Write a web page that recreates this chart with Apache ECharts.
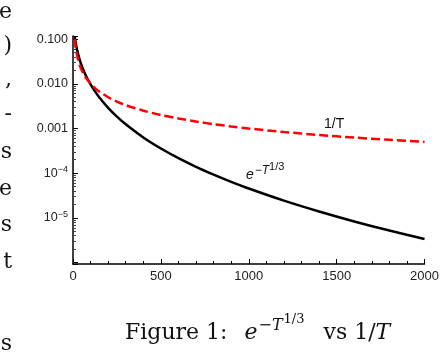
<!DOCTYPE html>
<html>
<head>
<meta charset="utf-8">
<script src="https://cdn.jsdelivr.net/npm/echarts@6/dist/echarts.min.js"></script>
<style>
  html, body { margin: 0; padding: 0; background: #fff; }
  #chart { width: 442px; height: 354px; }
</style>
</head>
<body>
<div id="chart"></div>
<script>
// T values sampled along the curves
const T = [10, 12, 15, 20, 25, 30, 40, 50, 60, 75, 100, 125, 150, 200, 250, 300, 400, 500, 600, 700, 800, 900, 1000, 1200, 1400, 1600, 1800, 2000];
// e^{-T^{1/3}}
const expVals = [0.116, 0.101, 0.0849, 0.0663, 0.0537, 0.0447, 0.0327, 0.0251, 0.0200, 0.0147, 0.00964, 0.00674, 0.00493, 0.00289, 0.00184, 0.00124, 0.000631, 0.000357, 0.000217, 0.000139, 0.0000930, 0.0000641, 0.0000454, 0.0000243, 0.0000139, 0.00000833, 0.00000521, 0.00000338];
// 1/T
const invVals = [0.100, 0.0833, 0.0667, 0.0500, 0.0400, 0.0333, 0.0250, 0.0200, 0.0167, 0.0133, 0.0100, 0.0080, 0.00667, 0.00500, 0.00400, 0.00333, 0.00250, 0.00200, 0.00167, 0.00143, 0.00125, 0.00111, 0.00100, 0.000833, 0.000714, 0.000625, 0.000556, 0.000500];
// y tick labels by exponent
const yTickExp = [-1, -2, -3, -4, -5];
const yTickText = ['0.100', '0.010', '0.001', '10{sup|\u22124}', '10{sup|\u22125}'];
// clipped letters of the neighbouring text column
const sideLetters = ['e', ')', ',', '-', 's', 'e', 's', 't', 's'];
const sideY = [12, 46, 80, 114, 152, 189, 225, 262, 344];

const chart = echarts.init(document.getElementById('chart'));

const sans = 'Liberation Sans, Arial, sans-serif';
const serif = 'DejaVu Serif, serif';

let graphics = [
  {
    type: 'text', x: 324, y: 117,
    style: { text: '1/T', font: '14px ' + sans, fill: '#111' }
  },
  {
    type: 'text', x: 246, y: 161,
    style: {
      text: '{e|e}{m|\u2212T}{s|1/3}',
      rich: {
        e: { fontFamily: sans, fontStyle: 'italic', fontSize: 14, verticalAlign: 'bottom', fill: '#111' },
        m: { fontFamily: sans, fontStyle: 'italic', fontSize: 12, verticalAlign: 'bottom', padding: [0, 0, 5, 1], fill: '#111' },
        s: { fontFamily: sans, fontSize: 11, verticalAlign: 'bottom', padding: [0, 0, 10, 0], fill: '#111' }
      }
    }
  },
  {
    type: 'text', x: 125, y: 329,
    style: {
      text: '{n|Figure 1:  }{e|e}{m|\u2212T}{s|1/3}{n|  vs 1/}{t|T}',
      font: '22px ' + serif,
      fill: '#111',
      align: 'left',
      verticalAlign: 'middle',
      rich: {
        n: { fontFamily: serif, fontSize: 22, verticalAlign: 'bottom', fill: '#111' },
        e: { fontFamily: serif, fontStyle: 'italic', fontSize: 22, verticalAlign: 'bottom', padding: [0, 0, 0, 3], fill: '#111' },
        m: { fontFamily: serif, fontStyle: 'italic', fontSize: 16, verticalAlign: 'bottom', padding: [0, 0, 11, 1], fill: '#111' },
        s: { fontFamily: serif, fontSize: 13, verticalAlign: 'bottom', padding: [0, 5, 18, 1], fill: '#111' },
        t: { fontFamily: serif, fontStyle: 'italic', fontSize: 22, verticalAlign: 'bottom', fill: '#111' }
      }
    }
  }
];
sideLetters.forEach(function (ch, i) {
  graphics.push({
    type: 'text', x: 12, y: sideY[i],
    style: { text: ch, font: '22px ' + serif, fill: '#111', align: 'right', verticalAlign: 'middle' }
  });
});

const option = {
  animation: false,
  backgroundColor: '#fff',
  grid: { left: 73, right: 16, top: 36, bottom: 90, containLabel: false },
  xAxis: {
    type: 'value',
    min: 0,
    max: 2000,
    interval: 500,
    axisLine: { show: true, lineStyle: { color: '#000', width: 1.5 } },
    axisTick: { show: true, inside: true, length: 5, lineStyle: { color: '#000', width: 1 } },
    minorTick: { show: true, splitNumber: 5, length: 3, lineStyle: { color: '#000', width: 1 } },
    splitLine: { show: false },
    axisLabel: {
      color: '#222', fontFamily: sans, fontSize: 13, margin: 6,
      formatter: function (v) { return String(v); }
    }
  },
  yAxis: {
    type: 'log',
    logBase: 10,
    min: 9.3e-7,
    max: 0.117,
    axisLine: { show: true, onZero: false, lineStyle: { color: '#000', width: 1.5 } },
    axisTick: { show: true, inside: true, length: 5, lineStyle: { color: '#000', width: 1 } },
    minorTick: { show: true, splitNumber: 9, length: 3, lineStyle: { color: '#444', width: 1 } },
    splitLine: { show: false },
    axisLabel: {
      color: '#222', fontFamily: sans, fontSize: 12.5, margin: 5,
      formatter: function (v) {
        const e = Math.round(Math.log10(v));
        if (Math.abs(Math.log10(v) - e) > 1e-6) return '';
        const k = yTickExp.indexOf(e);
        return k < 0 ? '' : yTickText[k];
      },
      rich: { sup: { fontSize: 9, fontFamily: sans, color: '#222', padding: [0, 0, 7, 0] } }
    }
  },
  series: [
    {
      name: '1/T',
      type: 'line',
      showSymbol: false,
      smooth: 0.3,
      data: T.map(function (t, i) { return [t, invVals[i]]; }),
      lineStyle: { color: '#ff0000', width: 2.5, type: [9, 4] },
      z: 3
    },
    {
      name: 'exp',
      type: 'line',
      showSymbol: false,
      smooth: 0.3,
      data: T.map(function (t, i) { return [t, expVals[i]]; }),
      lineStyle: { color: '#000', width: 2.5 },
      z: 2
    }
  ],
  graphic: graphics
};
chart.setOption(option);
</script>
</body>
</html>
